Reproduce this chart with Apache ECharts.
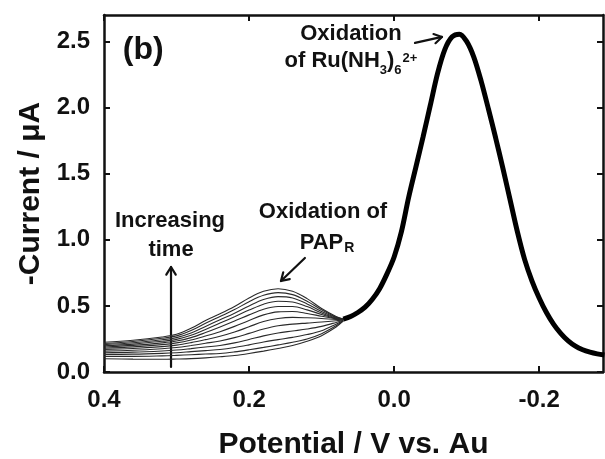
<!DOCTYPE html>
<html>
<head>
<meta charset="utf-8">
<script src="https://cdn.jsdelivr.net/npm/echarts@6/dist/echarts.min.js"></script>
<style>
  html, body { margin: 0; padding: 0; background: #fff; }
  #chart { width: 605px; height: 459px; }
</style>
</head>
<body>
<div id="chart"></div>
<script>
// Potentials (V vs. Au) of the PAP_R region, sampled before the Ru peak
const papPotentials = [0.40, 0.36, 0.32, 0.30, 0.28, 0.26, 0.24, 0.22, 0.20, 0.18, 0.16, 0.14, 0.12, 0.10, 0.08, 0.07];

// One scan per time step (latest scan first), -current in µA
const scan12 = [0.225, 0.240, 0.265, 0.285, 0.330, 0.390, 0.440, 0.495, 0.560, 0.610, 0.630, 0.610, 0.555, 0.480, 0.420, 0.400];
const scan11 = [0.216, 0.231, 0.255, 0.273, 0.313, 0.368, 0.420, 0.472, 0.532, 0.580, 0.600, 0.585, 0.535, 0.470, 0.415, 0.400];
const scan10 = [0.207, 0.221, 0.244, 0.260, 0.295, 0.345, 0.395, 0.445, 0.500, 0.548, 0.570, 0.560, 0.515, 0.458, 0.412, 0.400];
const scan9  = [0.198, 0.211, 0.232, 0.247, 0.278, 0.322, 0.370, 0.418, 0.468, 0.513, 0.535, 0.530, 0.495, 0.447, 0.408, 0.400];
const scan8  = [0.189, 0.201, 0.220, 0.234, 0.260, 0.298, 0.340, 0.385, 0.432, 0.475, 0.495, 0.495, 0.470, 0.435, 0.405, 0.400];
const scan7  = [0.180, 0.190, 0.207, 0.220, 0.242, 0.272, 0.305, 0.345, 0.390, 0.432, 0.455, 0.458, 0.443, 0.422, 0.402, 0.398];
const scan6  = [0.170, 0.178, 0.192, 0.203, 0.222, 0.245, 0.270, 0.302, 0.342, 0.382, 0.405, 0.413, 0.410, 0.405, 0.397, 0.396];
const scan5  = [0.158, 0.164, 0.176, 0.185, 0.200, 0.217, 0.235, 0.260, 0.292, 0.325, 0.350, 0.362, 0.370, 0.378, 0.388, 0.394];
const scan4  = [0.146, 0.150, 0.159, 0.166, 0.177, 0.189, 0.200, 0.220, 0.246, 0.273, 0.295, 0.310, 0.325, 0.345, 0.375, 0.392];
const scan3  = [0.133, 0.135, 0.141, 0.146, 0.154, 0.162, 0.170, 0.185, 0.205, 0.227, 0.245, 0.262, 0.283, 0.312, 0.362, 0.390];
const scan2  = [0.118, 0.118, 0.122, 0.126, 0.131, 0.136, 0.140, 0.152, 0.168, 0.186, 0.205, 0.225, 0.250, 0.290, 0.350, 0.388];
const scan1  = [0.100, 0.097, 0.096, 0.098, 0.101, 0.107, 0.115, 0.125, 0.140, 0.158, 0.178, 0.200, 0.232, 0.275, 0.340, 0.386];
const papScans = [scan12, scan11, scan10, scan9, scan8, scan7, scan6, scan5, scan4, scan3, scan2, scan1];

// Ru(NH3)6 2+ oxidation peak, common to all scans
const ruPotentials = [0.07, 0.06, 0.05, 0.04, 0.03, 0.02, 0.01, 0.00, -0.01, -0.02, -0.03, -0.04, -0.05, -0.06,
  -0.07, -0.08, -0.09, -0.10, -0.11, -0.12, -0.13, -0.14, -0.15, -0.16, -0.17, -0.18, -0.19, -0.20,
  -0.21, -0.22, -0.23, -0.24, -0.25, -0.26, -0.27, -0.28, -0.29];
const ruCurrent = [0.40, 0.42, 0.45, 0.49, 0.55, 0.63, 0.74, 0.87, 1.06, 1.32, 1.55, 1.78, 2.02, 2.26,
  2.44, 2.535, 2.555, 2.50, 2.38, 2.20, 1.99, 1.77, 1.54, 1.30, 1.06, 0.85, 0.69, 0.56,
  0.45, 0.36, 0.29, 0.235, 0.195, 0.168, 0.150, 0.137, 0.128];

const xTickValues = [0.4, 0.2, 0.0, -0.2];
const yTickValues = [0.0, 0.5, 1.0, 1.5, 2.0, 2.5];

const FONT = '"Liberation Sans", Arial, sans-serif';
const INK = '#111';

const zip = (xs, ys) => xs.map((x, i) => [x, ys[i]]);
const fmt = v => (Math.abs(v) < 1e-9 ? 0 : v).toFixed(1);

const series = papScans.map(scan => ({
  type: 'line',
  data: zip(papPotentials, scan),
  smooth: 0.35,
  symbol: 'none',
  silent: true,
  lineStyle: { color: '#2a2a2a', width: 1.1 }
}));
series.push({
  type: 'line',
  data: zip(ruPotentials, ruCurrent),
  smooth: 0.3,
  symbol: 'none',
  silent: true,
  lineStyle: { color: '#000', width: 5 }
});

const frameLine = { show: true, onZero: false, lineStyle: { color: INK, width: 2.5 } };
const tickStyle = { color: INK, width: 2 };
const tickFont = { fontSize: 24, fontWeight: 'bold', fontFamily: FONT, color: INK };
const titleFont = { fontSize: 30, fontWeight: 'bold', fontFamily: FONT, color: INK };

const option = {
  animation: false,
  backgroundColor: '#fff',
  grid: { left: 104, top: 15, width: 499, height: 357, outerBoundsMode: 'none', containLabel: false },
  xAxis: [
    {
      type: 'value', position: 'bottom', inverse: true, min: -0.288, max: 0.4,
      axisLine: frameLine,
      axisTick: { show: true, inside: true, length: 6, customValues: xTickValues, lineStyle: tickStyle },
      axisLabel: Object.assign({ customValues: xTickValues, formatter: fmt, margin: 16 }, tickFont),
      splitLine: { show: false },
      name: 'Potential / V vs. Au', nameLocation: 'middle', nameGap: 58,
      nameTextStyle: titleFont
    },
    {
      type: 'value', position: 'top', inverse: true, min: -0.288, max: 0.4,
      axisLine: frameLine,
      axisTick: { show: true, inside: true, length: 6, customValues: xTickValues, lineStyle: tickStyle },
      axisLabel: { show: false },
      splitLine: { show: false }
    }
  ],
  yAxis: [
    {
      type: 'value', position: 'left', min: 0, max: 2.7,
      axisLine: frameLine,
      axisTick: { show: true, inside: true, length: 6, customValues: yTickValues, lineStyle: tickStyle },
      axisLabel: Object.assign({ customValues: yTickValues, formatter: fmt, margin: 14 }, tickFont),
      splitLine: { show: false },
      name: '-Current / \u03bcA', nameLocation: 'middle', nameGap: 58,
      nameTextStyle: titleFont
    },
    {
      type: 'value', position: 'right', min: 0, max: 2.7,
      axisLine: frameLine,
      axisTick: { show: true, inside: true, length: 6, customValues: yTickValues, lineStyle: tickStyle },
      axisLabel: { show: false },
      splitLine: { show: false }
    }
  ],
  series: series
};

const chart = echarts.init(document.getElementById('chart'));
chart.setOption(option);

// Annotations are anchored in data units and converted to pixels
const toPx = (x, y) => chart.convertToPixel({ seriesIndex: 0 }, [x, y]);

function arrow(from, to, width) {
  const a = toPx(from[0], from[1]);
  const b = toPx(to[0], to[1]);
  const ang = Math.atan2(b[1] - a[1], b[0] - a[0]);
  const len = 9, spread = 0.55;
  const h1 = [b[0] - len * Math.cos(ang - spread), b[1] - len * Math.sin(ang - spread)];
  const h2 = [b[0] - len * Math.cos(ang + spread), b[1] - len * Math.sin(ang + spread)];
  const style = { stroke: INK, lineWidth: width, fill: null, lineCap: 'round', lineJoin: 'round' };
  return [
    { type: 'polyline', silent: true, shape: { points: [a, b] }, style: style },
    { type: 'polyline', silent: true, shape: { points: [h1, b, h2] }, style: style }
  ];
}

// Sub/superscripts are shifted with asymmetric padding around the line middle
const baseRich = {
  m: { fontSize: 22, fontWeight: 'bold', fontFamily: FONT, fill: INK, verticalAlign: 'middle' },
  sub: { fontSize: 13, fontWeight: 'bold', fontFamily: FONT, fill: INK, verticalAlign: 'middle', padding: [18, 0, 0, 0] },
  subR: { fontSize: 14, fontWeight: 'bold', fontFamily: FONT, fill: INK, verticalAlign: 'middle', padding: [10, 0, 0, 1] },
  sup: { fontSize: 13, fontWeight: 'bold', fontFamily: FONT, fill: INK, verticalAlign: 'middle', padding: [0, 0, 6, 1] }
};

function label(x, y, text, size) {
  const p = toPx(x, y);
  return {
    type: 'text', silent: true, x: p[0], y: p[1],
    style: {
      text: text, fontSize: size || 22, fontWeight: 'bold', fontFamily: FONT, fill: INK,
      align: 'center', verticalAlign: 'middle', textAlign: 'center', textVerticalAlign: 'middle',
      rich: baseRich
    }
  };
}

const graphics = [
  label(0.346, 2.436, '(b)', 32),
  label(0.0595, 2.557, '{m|Oxidation}'),
  label(0.0595, 2.352, '{m|of Ru(NH}{sub|3}{m|)}{sub|6}{sup|2+}'),
  label(0.309, 1.142, '{m|Increasing}'),
  label(0.3076, 0.923, '{m|time}'),
  label(0.098, 1.210, '{m|Oxidation of}'),
  label(0.0925, 0.976, '{m|PAP}{subR|R}'),
  ...arrow([-0.0288, 2.489], [-0.066, 2.534], 2.2),
  ...arrow([0.123, 0.862], [0.156, 0.688], 2.2),
  ...arrow([0.3076, 0.038], [0.3076, 0.794], 2.2)
];
chart.setOption({ graphic: { elements: graphics } });
</script>
</body>
</html>
